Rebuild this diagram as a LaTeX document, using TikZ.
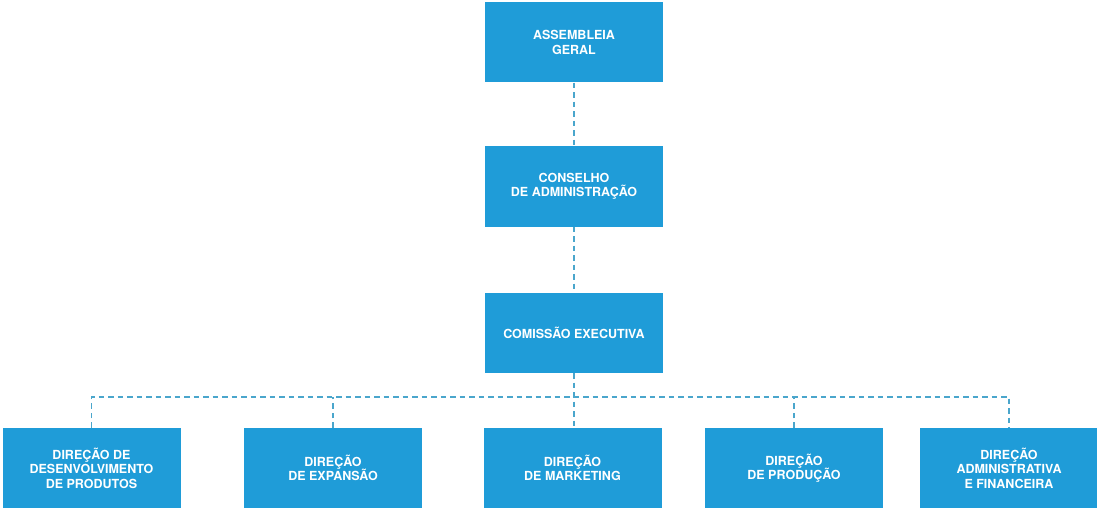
\documentclass[tikz,border=0pt]{standalone}
\usepackage{fontspec}
\setmainfont{TeX Gyre Heros}
\definecolor{boxblue}{HTML}{1F9CD8}
\definecolor{linkblue}{HTML}{4AA6CC}
\begin{document}
\begin{tikzpicture}[x=1pt,y=1pt,
  unit/.style={fill=boxblue, text=white, minimum width=178pt, minimum height=80pt,
    inner sep=0pt, align=center, font=\fontsize{12.5}{14.5}\selectfont\bfseries},
  link/.style={draw=linkblue, line width=1.4pt, dash pattern=on 5.5pt off 4pt}]
\useasboundingbox (0,0) rectangle (1097,507);

% governing bodies
\node[unit] (ag)  at (574,464.5) {ASSEMBLEIA\\GERAL};
\node[unit] (ca)  at (574,320.5) {CONSELHO\\DE ADMINISTRAÇÃO};
\node[unit] (ce)  at (574,174)   {COMISSÃO EXECUTIVA};

% directorates
\node[unit] (d1) at (91.5,39)  {DIREÇÃO DE\\DESENVOLVIMENTO\\DE PRODUTOS};
\node[unit] (d2) at (333,39)   {DIREÇÃO\\DE EXPANSÃO};
\node[unit] (d3) at (572.5,39) {DIREÇÃO\\DE MARKETING};
\node[unit] (d4) at (794,39)   {DIREÇÃO\\DE PRODUÇÃO};
\node[unit] (d5) at (1009,39)  {DIREÇÃO\\ADMINISTRATIVA\\E FINANCEIRA};

% bus line
\coordinate (bus) at (0,110);

% connectors
\draw[link] (ag.south) -- (ca.north);
\draw[link] (ca.south) -- (ce.north);
\draw[link] (ce.south) -- (ce.south |- d3.north);
\draw[link] (d1.north) -- (d1.north |- bus) -- (d5.north |- bus) -- (d5.north);
\draw[link] (d2.north) -- (d2.north |- bus);
\draw[link] (d4.north) -- (d4.north |- bus);
\end{tikzpicture}
\end{document}
